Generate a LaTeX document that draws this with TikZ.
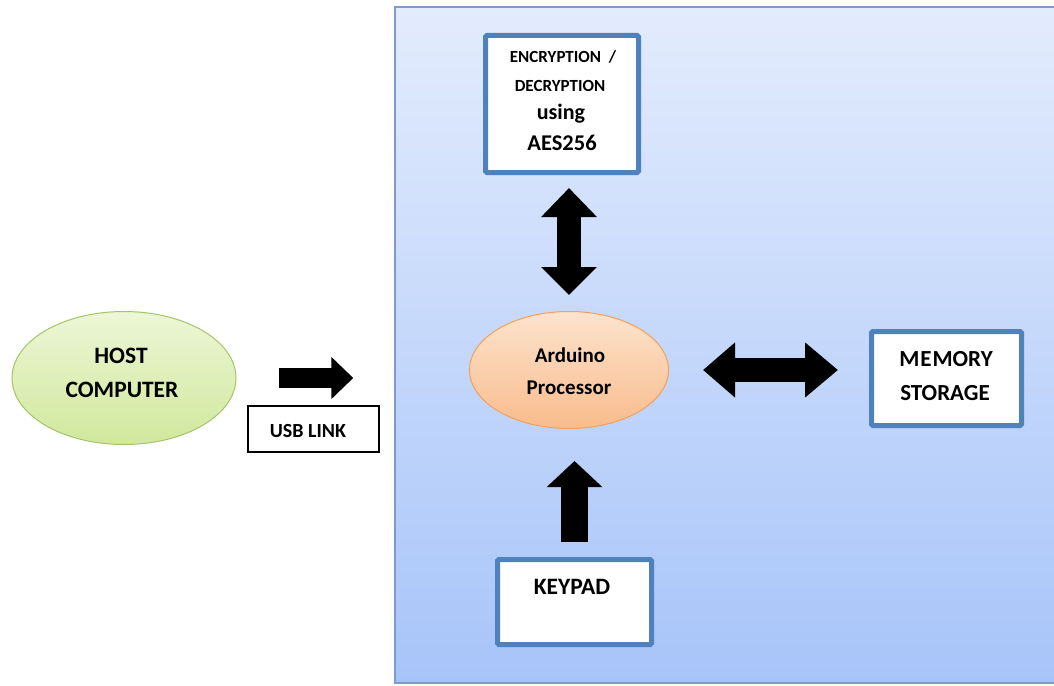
\documentclass[tikz,border=0pt]{standalone}
\usepackage{fontspec}
\setmainfont{Carlito}
\usetikzlibrary{shapes.geometric,arrows.meta,calc}
\definecolor{boxblue}{HTML}{4F81BD}
\definecolor{panelborder}{HTML}{7F9CC8}
\definecolor{paneltop}{HTML}{E3ECFD}
\definecolor{panelbot}{HTML}{A7C4F9}
\definecolor{greentop}{HTML}{EDF6D6}
\definecolor{greenbot}{HTML}{D0E89C}
\definecolor{greenline}{HTML}{A5C46A}
\definecolor{orangetop}{HTML}{FDE3CD}
\definecolor{orangebot}{HTML}{F9BC8C}
\definecolor{orangeline}{HTML}{F2A05C}
\tikzset{
  bluebox/.style={draw=boxblue, line width=5pt, fill=white, rounded corners=1.5pt, inner sep=0pt},
  txt/.style={font=\bfseries, anchor=base, inner sep=0pt},
  blockarrow/.style={line width=#1, draw=black},
}
\begin{document}
\begin{tikzpicture}[x=1pt,y=-1pt]
\useasboundingbox (0,0) rectangle (1054,685);
\fill[white] (0,0) rectangle (1054,685);
% panel
\node[draw=panelborder, line width=1.5pt, top color=paneltop, bottom color=panelbot,
      minimum width=670pt, minimum height=676pt, inner sep=0pt] (panel) at (730,345) {};
% nodes
\node[bluebox, minimum width=153pt, minimum height=137pt] (enc) at (562,104) {};
\node[txt, font=\bfseries\fontsize{17}{20}\selectfont] (enc1) at (563,63) {ENCRYPTION~~/};
\node[txt, font=\bfseries\fontsize{17}{20}\selectfont] (enc2) at (560,91) {DECRYPTION};
\node[txt, font=\bfseries\fontsize{22}{26}\selectfont] (enc3) at (561,119) {using};
\node[txt, font=\bfseries\fontsize{22.5}{26}\selectfont] (enc4) at (562,150) {AES256};

\node[ellipse, draw=orangeline, line width=1pt, top color=orangetop, bottom color=orangebot,
      minimum width=199pt, minimum height=117pt, inner sep=0pt] (ard) at (569,370) {};
\node[txt, font=\bfseries\fontsize{21}{24}\selectfont] (ard1) at (570,362) {Arduino};
\node[txt, font=\bfseries\fontsize{21}{24}\selectfont] (ard2) at (569,394) {Processor};

\node[ellipse, draw=greenline, line width=1pt, top color=greentop, bottom color=greenbot,
      minimum width=224pt, minimum height=133pt, inner sep=0pt] (host) at (124,378) {};
\node[txt, font=\bfseries\fontsize{23.5}{26}\selectfont] (host1) at (121,363) {HOST};
\node[txt, font=\bfseries\fontsize{23.5}{26}\selectfont] (host2) at (122,397) {COMPUTER};

\node[bluebox, minimum width=150pt, minimum height=94pt] (mem) at (946.5,378.5) {};
\node[txt, font=\bfseries\fontsize{23}{26}\selectfont] (mem1) at (946,366) {M\kern1pt E\kern1pt MORY};
\node[txt, font=\bfseries\fontsize{23}{26}\selectfont] (mem2) at (945,400) {STORAGE};

\node[bluebox, minimum width=154pt, minimum height=85pt] (key) at (574.5,602) {};
\node[txt, font=\bfseries\fontsize{23.5}{26}\selectfont] (key1) at (572,594) {KEYPAD};

\node[draw=black, line width=1.2pt, fill=white, minimum width=131pt, minimum height=46pt, inner sep=0pt] (usb) at (313.5,429) {};
\node[txt, font=\bfseries\fontsize{20}{22}\selectfont] (usb1) at (308,437) {USB LINK};

% arrows
\draw[blockarrow=24pt, {Triangle[length=29pt,width=54pt]}-{Triangle[length=28pt,width=54pt]},
      shorten <=13pt, shorten >=16pt, xshift=2pt] (enc.south -| ard.north) -- (ard.north);
\draw[blockarrow=24pt, {Triangle[length=32pt,width=53pt]}-{Triangle[length=33pt,width=53pt]},
      shorten <=34pt, shorten >=31pt, yshift=-6.5pt] (ard.east) -- (ard.east -| mem.west);
\draw[blockarrow=27pt, -{Triangle[length=26pt,width=54pt]},
      shorten <=15pt, shorten >=32pt, xshift=8.5pt] (key.north) -- (key.north |- ard.south);
\draw[blockarrow=20pt, -{Triangle[length=22pt,width=41pt]},
      shorten <=42pt, shorten >=41pt, yshift=6pt] (host.east) -- (host.east -| panel.west);
\end{tikzpicture}
\end{document}
